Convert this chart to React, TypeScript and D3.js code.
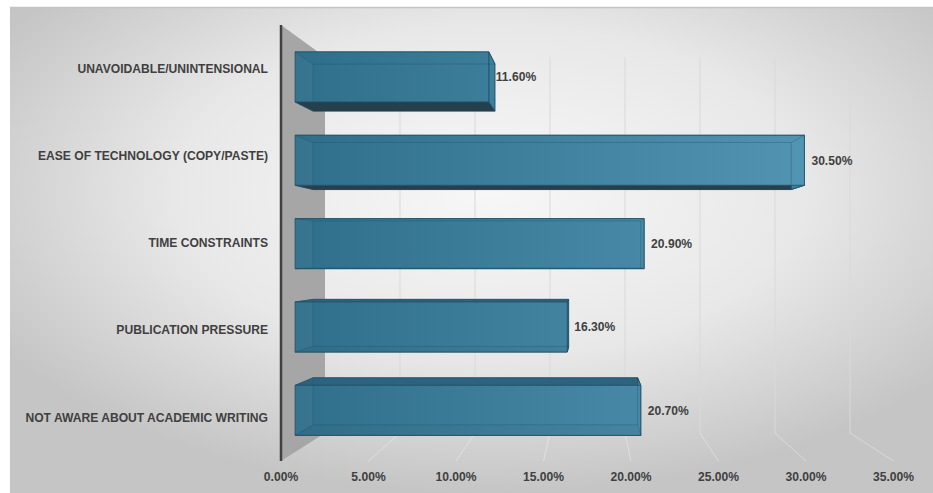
import React from "react";
import * as d3 from "d3";

const categories = [
  "UNAVOIDABLE/UNINTENSIONAL",
  "EASE OF TECHNOLOGY (COPY/PASTE)",
  "TIME CONSTRAINTS",
  "PUBLICATION PRESSURE",
  "NOT AWARE ABOUT ACADEMIC WRITING",
];
const values = [11.6, 30.5, 20.9, 16.3, 20.7];
const tickValues = [0, 5, 10, 15, 20, 25, 30, 35];
const tickLabels = ["0.00%", "5.00%", "10.00%", "15.00%", "20.00%", "25.00%", "30.00%", "35.00%"];

const W = 933;
const H = 493;
const FONT = "'Liberation Sans', Arial, sans-serif";
const TXT = "#404040";
const FS = 12.1;

type Pt = [number, number];

export default function App() {
  const xFront = d3.scaleLinear().domain([0, 35]).range([281, 893.5]);
  const xBack = d3.scaleLinear().domain([0, 35]).range([325, 850]);
  const yFront = d3.scaleLinear().domain([0, 1]).range([25, 461]);
  const yBack = d3.scaleLinear().domain([0, 1]).range([57, 433]);
  const band = d3
    .scaleBand<string>()
    .domain(categories)
    .range([0, 1])
    .paddingInner(0.4)
    .paddingOuter(0.2);

  const P = (v: number, n: number, t: number): Pt => [
    xFront(v) + (xBack(v) - xFront(v)) * t,
    yFront(n) + (yBack(n) - yFront(n)) * t,
  ];
  const poly = (pts: Pt[]) => pts.map((p) => p.join(",")).join(" ");

  const tF = 0.32;
  const tB = 0.73;

  const wall = [P(0, 0, 0), P(0, 0, 1), P(0, 1, 1), P(0, 1, 0)];

  return (
    <svg
      width={W}
      height={H}
      style={{ position: "absolute", left: 0, top: 0, display: "block" }}
    >
      <defs>
        <radialGradient id="bg" cx="0.52" cy="0.38" r="0.62">
          <stop offset="0" stopColor="#f7f7f7" />
          <stop offset="0.55" stopColor="#e8e8e8" />
          <stop offset="1" stopColor="#c5c5c5" />
        </radialGradient>
        <linearGradient id="barG" gradientUnits="userSpaceOnUse" x1="290" y1="0" x2="810" y2="0">
          <stop offset="0" stopColor="#2f6f8c" />
          <stop offset="1" stopColor="#5497b4" />
        </linearGradient>
      </defs>
      <rect x={10} y={7} width={W - 10} height={H - 7} fill="url(#bg)" />
      <line x1={10} x2={W} y1={7.5} y2={7.5} stroke="#c3c3c3" strokeWidth={1.5} />

      {/* back wall gridlines and floor lines */}
      {tickValues
        .filter((v) => v > 0)
        .map((v) => {
          const a = P(v, 0, 1);
          const b = P(v, 1, 1);
          const c = P(v, 1, 0);
          return (
            <g key={"g" + v}>
              <line x1={a[0]} y1={a[1]} x2={b[0]} y2={b[1]} stroke="#d9d9d9" strokeWidth={1} />
              <line x1={b[0]} y1={b[1]} x2={c[0]} y2={c[1]} stroke="#ffffff" strokeOpacity={0.35} strokeWidth={1} />
            </g>
          );
        })}

      {/* side wall */}
      <polygon points={poly(wall)} fill="#a6a6a6" />
      <line x1={xFront(0)} x2={xFront(0)} y1={yFront(0)} y2={yFront(1)} stroke="#404040" strokeWidth={2.5} />

      {/* bars */}
      {categories.map((c, i) => {
        const v = values[i];
        const n0 = band(c)!;
        const n1 = n0 + band.bandwidth();
        const f = [P(0, n0, tF), P(v, n0, tF), P(v, n1, tF), P(0, n1, tF)];
        const b = [P(0, n0, tB), P(v, n0, tB), P(v, n1, tB), P(0, n1, tB)];
        const top = [f[0], f[1], b[1], b[0]];
        const bottom = [f[3], f[2], b[2], b[3]];
        const right = [f[1], b[1], b[2], f[2]];
        const edge = "#24556b";
        return (
          <g key={c}>
            <polygon points={poly(b)} fill="#2f6e8b" />
            <polygon points={poly(top)} fill="#2c6480" stroke={edge} strokeWidth={0.8} />
            <polygon points={poly(bottom)} fill="#253f4c" stroke="#23404d" strokeWidth={0.8} />
            <polygon points={poly(right)} fill="#3c809f" stroke={edge} strokeWidth={0.8} />
            <polygon points={poly(f)} fill="url(#barG)" fillOpacity={0.93} stroke={edge} strokeWidth={0.9} />
            {/* back edges seen through */}
            <polygon points={poly(b)} fill="none" stroke="#1f4e63" strokeOpacity={0.4} strokeWidth={0.8} />
            {[0, 1, 2, 3].map((k) => (
              <line
                key={k}
                x1={f[k][0]}
                y1={f[k][1]}
                x2={b[k][0]}
                y2={b[k][1]}
                stroke="#1f4e63"
                strokeOpacity={0.4}
                strokeWidth={0.8}
              />
            ))}
            <text
              x={P(v, 0, tF)[0] + 7}
              y={(f[1][1] + f[2][1]) / 2}
              dy="0.35em"
              fontFamily={FONT}
              fontWeight={700}
              fontSize={FS}
              fill={TXT}
            >
              {v.toFixed(2) + "%"}
            </text>
            <text
              x={268}
              y={yFront(n0 + band.bandwidth() / 2)}
              dy="0.35em"
              textAnchor="end"
              fontFamily={FONT}
              fontWeight={700}
              fontSize={FS}
              fill={TXT}
            >
              {c}
            </text>
          </g>
        );
      })}

      {/* x axis labels */}
      {tickValues.map((v, i) => (
        <text
          key={"t" + v}
          x={xFront(v)}
          y={477}
          dy="0.35em"
          textAnchor="middle"
          fontFamily={FONT}
          fontWeight={700}
          fontSize={FS}
          fill={TXT}
        >
          {tickLabels[i]}
        </text>
      ))}
    </svg>
  );
}
